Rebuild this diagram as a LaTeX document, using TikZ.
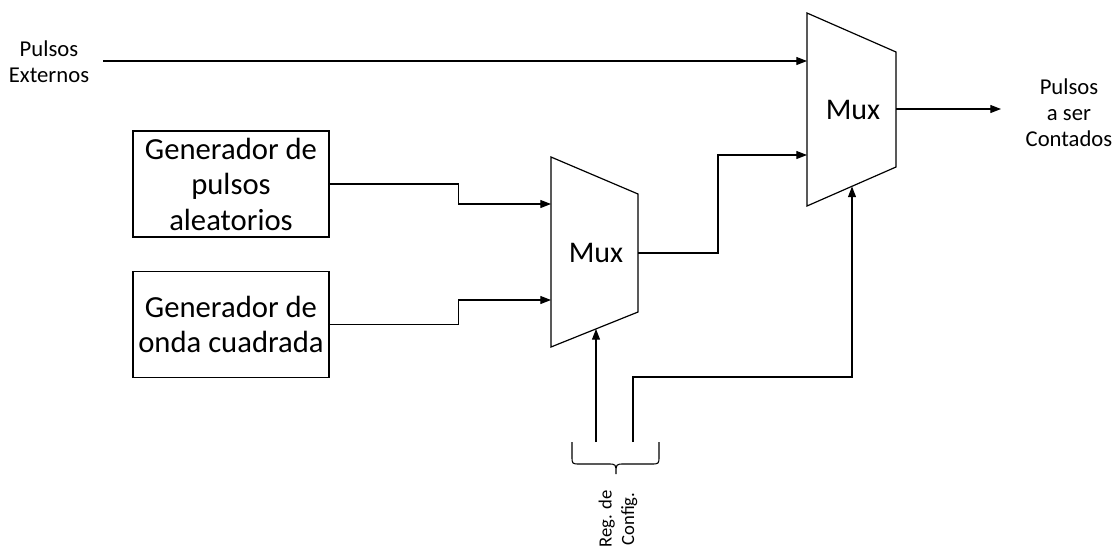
\documentclass[tikz,border=0pt]{standalone}
\usepackage{fontspec}
\setmainfont{Carlito}
\usepackage{tikz}
\usetikzlibrary{arrows.meta}

\begin{document}
\begin{tikzpicture}[x=0.75pt,y=-0.75pt,
  blk/.style={draw,line width=0.9pt,minimum width=147pt,minimum height=79.5pt,inner sep=0pt,
    align=center,font=\fontsize{23}{26.6}\selectfont},
  muxtxt/.style={font=\fontsize{22.5}{26}\selectfont},
  lbl/.style={align=center,font=\fontsize{17}{19.5}\selectfont},
  sig/.style={line width=0.8pt,-{Triangle[length=8pt,width=6pt]}},
  wire/.style={line width=0.8pt}]
\useasboundingbox (0,0) rectangle (1118,547);
% generadores
\node[blk] (gen1) at (231,184) {Generador de\\pulsos\\aleatorios};
\node[blk] (gen2) at (231,324.5) {Generador de\\onda cuadrada};
% mux 1
\draw[line width=0.9pt] (551,157) -- (638,194) -- (638,312) -- (551,347) -- cycle;
\node[muxtxt] (mux1) at (596,253) {Mux};
\coordinate (m1in1) at (551,204);
\coordinate (m1in2) at (551,300);
\coordinate (m1out) at (638,253);
\coordinate (m1sel) at (596,329);
% mux 2
\draw[line width=0.9pt] (807,13) -- (896,52) -- (896,167) -- (807,206) -- cycle;
\node[muxtxt] (mux2) at (853,110) {Mux};
\coordinate (m2in1) at (807,61);
\coordinate (m2in2) at (807,155);
\coordinate (m2out) at (896,109);
\coordinate (m2sel) at (852,186.5);
% entradas y salida
\node[lbl] (ext) at (49,62) {Pulsos\\Externos};
\coordinate (extin) at (103,61);
\draw[sig] (extin) -- (m2in1);
\draw[sig] (gen1.east) -- ++(129,0) |- (m1in1);
\draw[sig] (gen2.east) -- ++(129,0) |- (m1in2);
\draw[sig] (m1out) -- ++(80,0) |- (m2in2);
\coordinate (outend) at (1001,109);
\draw[sig] (m2out) -- (outend);
\node[lbl] (cnt) at (1069,113) {Pulsos\\a ser\\Contados};
%
\coordinate (s1) at (596,442);
\coordinate (s2) at (633,442);
\draw[sig] (s1) -- (m1sel);
\draw[sig] (s2) -- ++(0,-65) -| (m2sel);
\draw[wire] (572,442) -- (572,456) .. controls (572,464) .. (580,464) -- (608,464)
  .. controls (616,464) .. (616,474) .. controls (616,464) .. (624,464) -- (651,464)
  .. controls (659,464) .. (659,456) -- (659,442);
\node[rotate=90,align=center,font=\fontsize{14}{17}\selectfont] (cfg) at (618,519) {Reg. de\\Config.};
\end{tikzpicture}
\end{document}
